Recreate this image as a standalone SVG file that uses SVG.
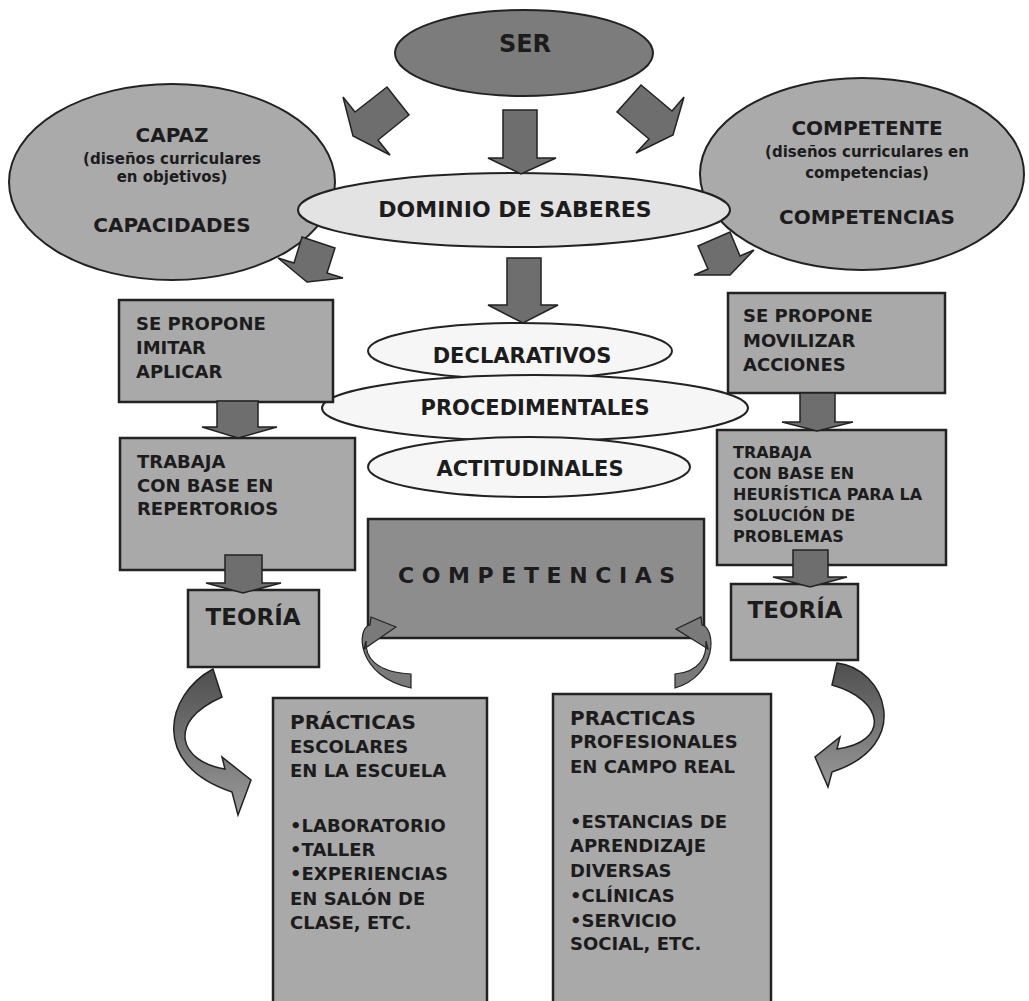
<svg xmlns="http://www.w3.org/2000/svg" width="1029" height="1001" viewBox="0 0 1029 1001">
<defs>
<linearGradient id="cg" x1="0" y1="0" x2="0" y2="1">
<stop offset="0" stop-color="#4e4e4e"/>
<stop offset="1" stop-color="#9a9a9a"/>
</linearGradient>
<style>
text{font-family:"DejaVu Sans",Verdana,sans-serif;font-weight:bold;fill:#1c1c1c}
.c{text-anchor:middle}
.ser{fill:#7c7c7c;stroke:#222;stroke-width:2}
.mid{fill:#aaaaaa;stroke:#222;stroke-width:2}
.light{fill:#e3e3e3;stroke:#222;stroke-width:2}
.white{fill:#f6f6f6;stroke:#222;stroke-width:2}
.box{fill:#a9a9a9;stroke:#222;stroke-width:2.5}
.boxd{fill:#8d8d8d;stroke:#222;stroke-width:2.5}
.arr{fill:#6e6e6e;stroke:#222;stroke-width:1.5;stroke-linejoin:miter}
.crv{fill:url(#cg);stroke:#222;stroke-width:1.5}
.crvs{fill:#7a7a7a;stroke:#222;stroke-width:1.2}
</style>
</defs>
<rect width="1029" height="1001" fill="#ffffff"/>

<g id="ser">
<ellipse class="ser" cx="524" cy="53" rx="129" ry="43"/>
<text class="c" x="525" y="52" font-size="24">SER</text>
</g>

<g id="capaz">
<ellipse class="mid" cx="172" cy="182" rx="163" ry="98"/>
<text class="c" x="172" y="142" font-size="20">CAPAZ</text>
<text class="c" x="172" y="164" font-size="15">(diseños curriculares</text>
<text class="c" x="172" y="182" font-size="15">en objetivos)</text>
<text class="c" x="172" y="232" font-size="20">CAPACIDADES</text>
</g>

<g id="competente">
<ellipse class="mid" cx="862" cy="174" rx="162" ry="96"/>
<text class="c" x="867" y="135" font-size="20">COMPETENTE</text>
<text class="c" x="867" y="157" font-size="15">(diseños curriculares en</text>
<text class="c" x="867" y="178" font-size="15">competencias)</text>
<text class="c" x="867" y="224" font-size="20">COMPETENCIAS</text>
</g>

<g id="dominio">
<ellipse class="light" cx="514" cy="210" rx="216" ry="37"/>
<text class="c" x="515" y="217" font-size="22">DOMINIO DE SABERES</text>
</g>

<g id="declarativos">
<ellipse class="white" cx="520" cy="351" rx="152" ry="28"/>
<text class="c" x="522" y="363" font-size="21">DECLARATIVOS</text>
</g>

<g id="procedimentales">
<ellipse class="white" cx="535" cy="408" rx="213" ry="33"/>
<text class="c" x="535" y="415" font-size="21">PROCEDIMENTALES</text>
</g>

<g id="actitudinales">
<ellipse class="white" cx="529" cy="467" rx="161" ry="30"/>
<text class="c" x="530" y="476" font-size="21">ACTITUDINALES</text>
</g>

<g id="propone-imitar">
<rect class="box" x="119" y="300" width="214" height="102"/>
<text x="136" y="330" font-size="18">SE PROPONE</text>
<text x="136" y="354" font-size="18">IMITAR</text>
<text x="136" y="378" font-size="18">APLICAR</text>
</g>

<g id="trabaja-repertorios">
<rect class="box" x="120" y="438" width="235" height="132"/>
<text x="137" y="468" font-size="18">TRABAJA</text>
<text x="137" y="492" font-size="18">CON BASE EN</text>
<text x="137" y="515" font-size="18">REPERTORIOS</text>
</g>

<g id="teoria-izq">
<rect class="box" x="188" y="590" width="131" height="77"/>
<text class="c" x="253" y="625" font-size="23">TEORÍA</text>
</g>

<g id="competencias">
<rect class="boxd" x="368" y="519" width="336" height="119"/>
<text x="398" y="583" font-size="22" letter-spacing="7.6">COMPETENCIAS</text>
</g>

<g id="propone-movilizar">
<rect class="box" x="728" y="293" width="217" height="100"/>
<text x="743" y="322" font-size="18">SE PROPONE</text>
<text x="743" y="347" font-size="18">MOVILIZAR</text>
<text x="743" y="371" font-size="18">ACCIONES</text>
</g>

<g id="trabaja-heuristica">
<rect class="box" x="717" y="430" width="229" height="135"/>
<text x="733" y="458" font-size="16">TRABAJA</text>
<text x="733" y="479" font-size="16">CON BASE EN</text>
<text x="733" y="500" font-size="16">HEURÍSTICA PARA LA</text>
<text x="733" y="521" font-size="16">SOLUCIÓN DE</text>
<text x="733" y="542" font-size="16">PROBLEMAS</text>
</g>

<g id="teoria-der">
<rect class="box" x="731" y="584" width="127" height="76"/>
<text class="c" x="795" y="618" font-size="23">TEORÍA</text>
</g>

<g id="practicas-escolares">
<rect class="box" x="273" y="698" width="214" height="310"/>
<text x="290" y="729" font-size="20">PRÁCTICAS</text>
<text x="290" y="753" font-size="18">ESCOLARES</text>
<text x="290" y="777" font-size="18">EN LA ESCUELA</text>
<text x="290" y="832" font-size="18">•LABORATORIO</text>
<text x="290" y="856" font-size="18">•TALLER</text>
<text x="290" y="880" font-size="18">•EXPERIENCIAS</text>
<text x="290" y="905" font-size="18">EN SALÓN DE</text>
<text x="290" y="929" font-size="18">CLASE, ETC.</text>
</g>

<g id="practicas-profesionales">
<rect class="box" x="553" y="694" width="218" height="314"/>
<text x="570" y="725" font-size="20">PRACTICAS</text>
<text x="570" y="748" font-size="18">PROFESIONALES</text>
<text x="570" y="773" font-size="18">EN CAMPO REAL</text>
<text x="570" y="828" font-size="18">•ESTANCIAS DE</text>
<text x="570" y="852" font-size="18">APRENDIZAJE</text>
<text x="570" y="877" font-size="18">DIVERSAS</text>
<text x="570" y="902" font-size="18">•CLÍNICAS</text>
<text x="570" y="927" font-size="18">•SERVICIO</text>
<text x="570" y="950" font-size="18">SOCIAL, ETC.</text>
</g>

<g id="connectors">
<!-- SER side arrows -->
<polygon class="arr" points="387,87 355,112 343,97 353,136 390,155 378,140 409,115"/>
<polygon class="arr" points="641,85 672,111 684,97 673,135 636,153 649,139 617,112"/>
<!-- SER to DOMINIO -->
<polygon class="arr" points="503,110 537,110 537,158 556,158 521,174 488,158 503,158"/>
<!-- DOMINIO to DECLARATIVOS -->
<polygon class="arr" points="507,258 541,258 541,305 558,305 523,323 488,305 507,305"/>
<!-- CAPAZ / COMPETENTE down arrows -->
<polygon class="arr" points="302,237 335,248 327,273 343,278 307,282 278,258 294,263"/>
<polygon class="arr" points="698,246 730,232 740,256 754,250 730,275 694,275 708,269"/>
<!-- left column -->
<polygon class="arr" points="217,401 258,401 258,427 277,427 238,438 202,427 217,427"/>
<polygon class="arr" points="225,555 262,555 262,583 281,583 243,593 206,583 225,583"/>
<!-- right column -->
<polygon class="arr" points="800,393 835,393 835,422 853,422 817,431 782,422 800,422"/>
<polygon class="arr" points="793,550 828,550 828,577 847,577 810,587 773,577 793,577"/>
<!-- curved arrows -->
<path class="crv" d="M213 669 C165 695 150 765 232 792 L238 815 L251 780 L222 757 L225 769 C180 762 165 722 222 697 Z"/>
<path class="crv" d="M837 663 C885 668 915 745 832 772 L828 787 L815 757 L840 737 L837 749 C890 742 885 700 832 685 Z"/>
<path class="crvs" d="M396 627 L371 617 L370 625 C356 628 356 676 411 688 L411 674 C374 672 365 656 366 641 L364 649 Z"/>
<path class="crvs" d="M676 629 L701 617 L702 625 C716 628 718 675 675 688 L675 674 C700 672 707 656 706 641 L708 649 Z"/>
</g>
</svg>
